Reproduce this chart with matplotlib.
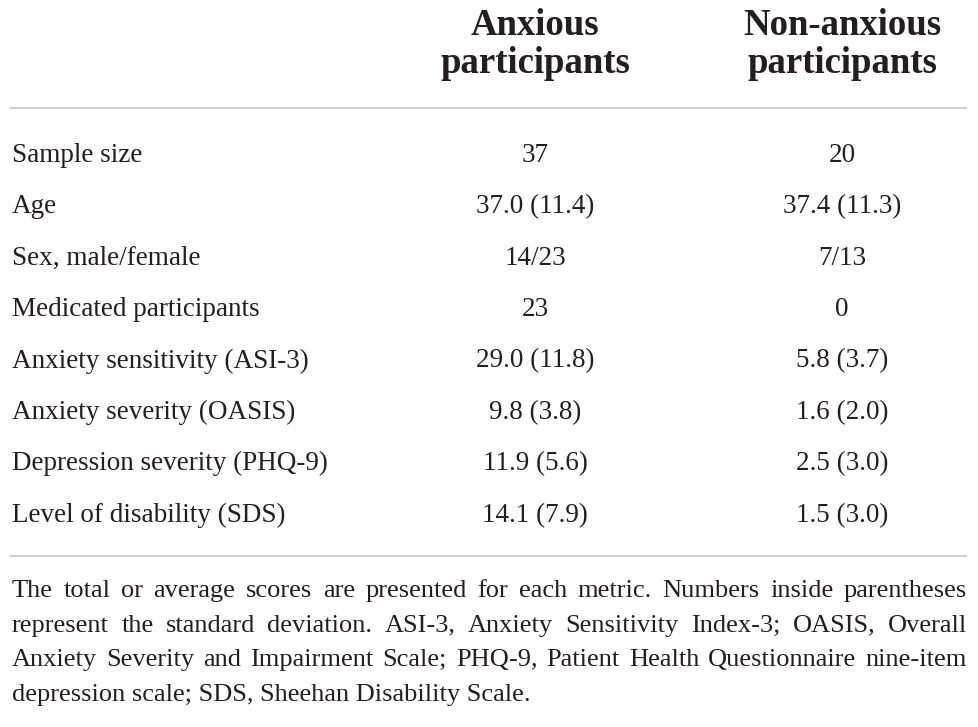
import matplotlib.pyplot as plt

# Table content
headers_1 = ["Anxious", "Non-anxious"]
headers_2 = ["participants", "participants"]

rows = [
    "Sample size",
    "Age",
    "Sex, male/female",
    "Medicated participants",
    "Anxiety sensitivity (ASI-3)",
    "Anxiety severity (OASIS)",
    "Depression severity (PHQ-9)",
    "Level of disability (SDS)",
]

anxious = ["37", "37.0 (11.4)", "14/23", "23", "29.0 (11.8)",
           "9.8 (3.8)", "11.9 (5.6)", "14.1 (7.9)"]
non_anxious = ["20", "37.4 (11.3)", "7/13", "0", "5.8 (3.7)",
               "1.6 (2.0)", "2.5 (3.0)", "1.5 (3.0)"]

footnote = [
    "The total or average scores are presented for each metric. Numbers inside parentheses",
    "represent the standard deviation. ASI-3, Anxiety Sensitivity Index-3; OASIS, Overall",
    "Anxiety Severity and Impairment Scale; PHQ-9, Patient Health Questionnaire nine-item",
    "depression scale; SDS, Sheehan Disability Scale.",
]

W, H = 979, 727
TXT = "#231f20"
RULE = "#cfcfcf"
plt.rcParams['font.family'] = ['Liberation Serif', 'DejaVu Serif']

fig = plt.figure(figsize=(W / 100, H / 100), dpi=100)
ax = fig.add_axes([0, 0, 1, 1])
ax.set_xlim(0, W)
ax.set_ylim(H, 0)
ax.axis("off")

col_x = [535, 842]
left = 12
right = 967

# header
for cx, h1, h2 in zip(col_x, headers_1, headers_2):
    ax.text(cx, 35, h1, ha="center", va="baseline", fontsize=26.5,
            fontweight="bold", color=TXT)
    ax.text(cx, 73, h2, ha="center", va="baseline", fontsize=26.5,
            fontweight="bold", color=TXT)

ax.plot([10, 967], [108, 108], color=RULE, lw=1.5, solid_capstyle="butt")

# body rows
for i, (name, a, n) in enumerate(zip(rows, anxious, non_anxious)):
    y = 162 + i * 51.4
    ax.text(left, y, name, ha="left", va="baseline", fontsize=19.5, color=TXT)
    ax.text(col_x[0], y, a, ha="center", va="baseline", fontsize=19.5, color=TXT)
    ax.text(col_x[1], y, n, ha="center", va="baseline", fontsize=19.5, color=TXT)

ax.plot([10, 967], [556, 556], color=RULE, lw=1.5, solid_capstyle="butt")

# footnote, justified except last line
renderer = fig.canvas.get_renderer()
for j, line in enumerate(footnote):
    y = 597 + j * 34.7
    if j == len(footnote) - 1:
        ax.text(left, y, line, ha="left", va="baseline", fontsize=19, color=TXT)
        continue
    words = line.split()
    texts = [ax.text(0, y, w, ha="left", va="baseline", fontsize=19, color=TXT)
             for w in words]
    widths = [t.get_window_extent(renderer).width for t in texts]
    gap = (right - left - sum(widths)) / (len(words) - 1)
    x = left
    for t, w in zip(texts, widths):
        t.set_x(x)
        x += w + gap

fig.savefig("out.png", dpi=100, facecolor="white")
